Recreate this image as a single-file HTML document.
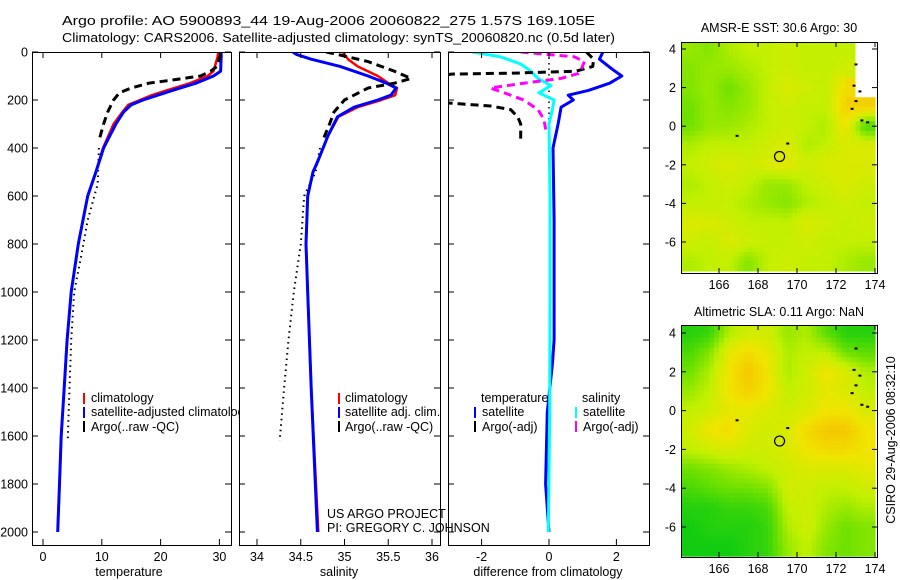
<!DOCTYPE html>
<html><head><meta charset="utf-8"><style>
body{margin:0;background:#fff;}
svg{display:block;font-family:"Liberation Sans",sans-serif;}
</style></head><body>
<svg id="fig" width="900" height="580" viewBox="0 0 900 580" xmlns="http://www.w3.org/2000/svg">
<rect width="900" height="580" fill="#fff"/>
<text x="62" y="25" font-size="13" textLength="533" lengthAdjust="spacingAndGlyphs">Argo profile: AO 5900893_44 19-Aug-2006 20060822_275 1.57S 169.105E</text>
<text x="62" y="42" font-size="13" textLength="553" lengthAdjust="spacingAndGlyphs">Climatology: CARS2006. Satellite-adjusted climatology: synTS_20060820.nc (0.5d later)</text>
<defs>
<clipPath id="c1"><rect x="32" y="52" width="199" height="493"/></clipPath>
<clipPath id="c1b"><rect x="32" y="52" width="208" height="493"/></clipPath>
<clipPath id="c2"><rect x="239" y="52" width="201" height="493"/></clipPath>
<clipPath id="c3"><rect x="448" y="52" width="201" height="493"/></clipPath>
<clipPath id="cm1"><rect x="681" y="42" width="196" height="231"/></clipPath>
<clipPath id="cm2"><rect x="681" y="325" width="196" height="232"/></clipPath>
</defs>
<g id="g1" clip-path="url(#c1)"></g>
<g id="g2" clip-path="url(#c2)"></g>
<g id="g3" clip-path="url(#c3)"></g>
<g id="m1" clip-path="url(#cm1)"></g>
<g id="m2" clip-path="url(#cm2)"></g>
<g id="axes"></g>
<text x="91" y="402" font-size="12.5">climatology</text>
<text x="91" y="416" font-size="12.5" clip-path="url(#c1b)">satellite-adjusted climatology</text>
<text x="91" y="431" font-size="12.5">Argo(..raw -QC)</text>
<rect x="83" y="393" width="2" height="11" fill="#f00"/>
<rect x="83" y="407" width="2" height="11" fill="#00f"/>
<rect x="83" y="421" width="2" height="11" fill="#000"/>
<text x="345" y="402" font-size="12.5">climatology</text>
<text x="345" y="416" font-size="12.5">satellite adj. clim.</text>
<text x="345" y="431" font-size="12.5">Argo(..raw -QC)</text>
<rect x="338" y="393" width="2" height="11" fill="#f00"/>
<rect x="338" y="407" width="2" height="11" fill="#00f"/>
<rect x="338" y="421" width="2" height="11" fill="#000"/>
<text x="481" y="402" font-size="12.5">temperature</text>
<text x="582" y="402" font-size="12.5">salinity</text>
<text x="482" y="416" font-size="12.5">satellite</text>
<text x="482" y="431" font-size="12.5">Argo(-adj)</text>
<text x="583" y="416" font-size="12.5">satellite</text>
<text x="583" y="431" font-size="12.5">Argo(-adj)</text>
<rect x="474" y="407" width="2" height="11" fill="#00f"/>
<rect x="474" y="421" width="2" height="11" fill="#000"/>
<rect x="575" y="407" width="2" height="11" fill="#0ff"/>
<rect x="575" y="421" width="2" height="11" fill="#f0f"/>
<text x="327" y="518" font-size="12.5">US ARGO PROJECT</text>
<text x="327" y="532" font-size="12.5">PI: GREGORY C. JOHNSON</text>
<text x="129" y="576" font-size="12.5" text-anchor="middle">temperature</text>
<text x="339" y="576" font-size="12.5" text-anchor="middle">salinity</text>
<text x="548" y="576" font-size="12.5" text-anchor="middle">difference from climatology</text>
<text x="779" y="32" font-size="12.5" text-anchor="middle">AMSR-E SST: 30.6  Argo: 30</text>
<text x="779" y="316" font-size="12.5" text-anchor="middle">Altimetric SLA: 0.11  Argo: NaN</text>
<text transform="translate(895,440) rotate(-90)" font-size="12.5" text-anchor="middle">CSIRO 29-Aug-2006 08:32:10</text>
</svg>
<script>
// ---- profile data (depth, value) ----
const tempDepth = [0,20,80,100,130,160,180,200,220,250,300,400,500,600,700,800,1000,1200,1400,1600,1800,2000];
const tempSat   = [30.3,30.3,30.2,29,26,22,19.5,17,15,13.7,12.4,10.3,9,7.6,6.8,6,4.8,4.1,3.6,3.1,2.8,2.5];
const tempClim  = [29.8,29.7,29,28,25,21,18.5,16.5,14.5,13.5,12,10.2,9,7.6,6.8,6,4.8,4.1,3.6,3.1,2.8,2.5];
const argoTDepth = [10,60,80,100,120,130,150,170,200,250,300,370];
const argoT      = [30.2,29.6,28.5,26.8,21,18,15,13,12,11,10.3,9.5];
const rawTDepth = [400,550,700,850,1000,1200,1400,1620];
const rawT      = [9.5,9.3,7.6,6.5,5.3,4.8,4.5,4.2];

const salDepth = [0,10,30,60,100,130,150,180,200,230,270,350,450,500,600,800,1000,1400,2000];
const salSat   = [34.41,34.45,34.62,34.95,35.27,35.48,35.59,35.53,35.38,35.11,34.92,34.81,34.7,34.64,34.58,34.56,34.58,34.62,34.69];
const salClim  = [34.98,35.0,35.04,35.15,35.38,35.5,35.6,35.58,35.42,35.15,34.93,34.81,34.7,34.64,34.58,34.56,34.58,34.62,34.7];
const argoSDepth = [0,15,40,80,110,130,150,200,250,300,370];
const argoS      = [34.79,34.98,35.27,35.57,35.76,35.57,35.27,35.0,34.88,34.83,34.75];
const rawSDepth = [400,500,600,800,1000,1200,1400,1620];
const rawS      = [34.72,34.67,34.54,34.5,34.42,34.36,34.31,34.26];

const dTDepth = [0,30,70,100,130,160,180,200,230,300,400,700,1000,1200,1300,1500,1800,2000];
const dTSat   = [1.6,1.5,1.86,2.16,1.8,1.17,0.57,0.72,0.36,0.27,0.12,0.15,0.15,0.15,0.1,-0.05,-0.1,0];
const dSDepth = [0,20,50,80,110,140,170,200,240,300,600,1000,1500,2000];
const dSSat   = [-2.28,-1.44,-0.84,-0.54,-0.33,0.06,-0.3,0.15,0.1,0,0.03,0.03,0.02,-0.02];
const dTArgoDepth = [0,30,60,80,88,92,120,200,213,225,240,270,300,367];
const dTArgo      = [1.11,1.32,1.3,0.8,-1,-2.9,-4,-4,-2.94,-1.74,-1.14,-0.93,-0.84,-0.84];
const dSArgoDepth = [0,20,40,70,90,110,130,150,175,200,240,280,330];
const dSArgo      = [-0.84,0.75,1.05,0.96,0.87,0.36,-0.75,-1.74,-1.23,-0.75,-0.33,-0.15,-0.09];

// ---- map grids (lat rows 4..-7, lon cols 164.5..173.5), value 0 green .. 1 orange, null = missing ----
const sstGrid = [
[.4,.35,.45,.5,.5,.55,.5,.5,.5,null],
[.35,.4,.4,.45,.5,.55,.5,.5,.55,null],
[.35,.4,.3,.4,.5,.6,.55,.5,.75,null],
[.3,.4,.35,.4,.5,.55,.5,.5,.8,.8],
[.3,.4,.4,.45,.5,.55,.5,.45,.7,.2],
[.45,.5,.5,.5,.55,.6,.45,.5,.6,.6],
[.5,.55,.6,.55,.6,.65,.55,.6,.6,.6],
[.45,.5,.55,.5,.4,.4,.5,.55,.6,.55],
[.5,.5,.5,.45,.4,.35,.45,.5,.55,.5],
[.6,.6,.55,.5,.5,.5,.6,.55,.5,.55],
[.55,.5,.6,.55,.5,.5,.55,.5,.5,.5],
[.45,.5,.5,.35,.5,.55,.5,.5,.45,.4]];
const slaGrid = [
[.1,.15,.45,.55,.55,.4,.45,.25,.1,.1],
[.2,.35,.65,.75,.65,.45,.5,.5,.3,.25],
[.3,.45,.7,.85,.7,.45,.55,.7,.6,.45],
[.4,.5,.7,.8,.7,.5,.55,.65,.6,.5],
[.5,.55,.65,.65,.6,.55,.6,.7,.7,.6],
[.55,.7,.75,.6,.55,.6,.75,.85,.85,.7],
[.5,.55,.6,.55,.55,.6,.7,.75,.75,.7],
[.3,.35,.4,.45,.5,.55,.6,.6,.6,.65],
[.2,.25,.3,.3,.35,.55,.55,.5,.5,.55],
[.1,.1,.15,.15,.2,.5,.55,.45,.4,.45],
[.05,.1,.1,.1,.15,.45,.55,.4,.3,.35],
[.05,.05,.05,.1,.15,.4,.5,.35,.3,.35]];
const floatLon = 169.105, floatLat = -1.57;

const NS='http://www.w3.org/2000/svg';
function mk(tag, attrs, parent){const e=document.createElementNS(NS,tag);for(const k in attrs)e.setAttribute(k,attrs[k]);parent.appendChild(e);return e;}
const yD = d => 52 + d*0.24;
const xTemp = v => 43 + v*5.88;
const xSal = v => 257 + (v-34)*87.5;
const xDiff = v => 549 + v*33.7;

function line(g, depths, vals, xf, color, w, dash, name){
  const pts = depths.map((d,i)=> xf(vals[i]).toFixed(1)+','+yD(d).toFixed(1)).join(' ');
  const p = mk('polyline',{points:pts,fill:'none',stroke:color,'stroke-width':w,'stroke-linejoin':'round'},g);
  if(dash) p.setAttribute('stroke-dasharray',dash);
  
  
}
const g1=document.getElementById('g1'), g2=document.getElementById('g2'), g3=document.getElementById('g3');
line(g1,rawTDepth,rawT,xTemp,'#000',2,'1.5 4','temp-argo-raw-line');
line(g1,tempDepth,tempClim,xTemp,'#f00',2.5,null,'temp-climatology-line');
line(g1,tempDepth,tempSat,xTemp,'#00f',3,null,'temp-satellite-line');
line(g1,argoTDepth,argoT,xTemp,'#000',3,'8 5','temp-argo-line');
line(g2,rawSDepth,rawS,xSal,'#000',2,'1.5 4','sal-argo-raw-line');
line(g2,salDepth,salClim,xSal,'#f00',2.5,null,'sal-climatology-line');
line(g2,salDepth,salSat,xSal,'#00f',3,null,'sal-satellite-line');
line(g2,argoSDepth,argoS,xSal,'#000',3,'8 5','sal-argo-line');
line(g3,[0,450],[0,0],xDiff,'#000',1.5,'1.5 4','zero-reference-line');
line(g3,dTDepth,dTSat,xDiff,'#00f',3,null,'diff-temp-satellite-line');
line(g3,dSDepth,dSSat,xDiff,'#0ff',3,null,'diff-sal-satellite-line');
line(g3,dTArgoDepth,dTArgo,xDiff,'#000',3,'8 5','diff-temp-argo-line');
line(g3,dSArgoDepth,dSArgo,xDiff,'#f0f',3,'8 5','diff-sal-argo-line');

const axes=document.getElementById('axes');
function panel(x0,x1,xticks,xlabels,xf,name,showY){
  const r=mk('rect',{x:x0+.5,y:52.5,width:x1-x0,height:493,fill:'none',stroke:'#000','stroke-width':1},axes);
  
  
  for(let d=0; d<=2000; d+=200){
    const y=yD(d);
    mk('line',{x1:x0,x2:x0+6,y1:y,y2:y,stroke:'#000'},axes);
    mk('line',{x1:x1-6,x2:x1,y1:y,y2:y,stroke:'#000'},axes);
    if(showY){
      const t=mk('text',{x:28,y:y+4.5,'font-size':12.5,'text-anchor':'end'},axes);
      t.textContent=d;
      
      
    }
  }
  xticks.forEach((v,i)=>{
    const x=xf(v);
    mk('line',{x1:x,x2:x,y1:52,y2:58,stroke:'#000'},axes);
    mk('line',{x1:x,x2:x,y1:539,y2:545,stroke:'#000'},axes);
    const t=mk('text',{x:x,y:561,'font-size':12.5,'text-anchor':'middle'},axes);
    t.textContent=xlabels[i];
    
    
  });
}
const tTicks=[0,10,20,30], sTicks=[34,34.5,35,35.5,36], dTicks=[-2,0,2];
panel(32,231,tTicks,['0','10','20','30'],xTemp,'temperature-panel',true);
panel(239,440,sTicks,['34','34.5','35','35.5','36'],xSal,'salinity-panel',false);
panel(448,649,dTicks,['-2','0','2'],xDiff,'difference-panel',false);

// ---- maps ----
function cmap(v){
  const stops=[[0,[0,200,20]],[0.3,[110,225,0]],[0.5,[195,240,0]],[0.7,[240,228,0]],[1,[250,170,0]]];
  for(let i=1;i<stops.length;i++){ if(v<=stops[i][0]){const a=stops[i-1],b=stops[i];const t=(v-a[0])/(b[0]-a[0]);
    return 'rgb('+a[1].map((c,k)=>Math.round(c+(b[1][k]-c)*t)).join(',')+')';}}
  return 'rgb(250,170,0)';
}
function drawMap(gid,grid,top,bot,smooth,name,latTopPx,lat6Px){
  const g=document.getElementById(gid);
  const lonX = lon => 719 + (lon-166)*19.5;
  const latY = lat => latTopPx + (4-lat)*(lat6Px-latTopPx)/10;
  const sub = 4;
  const val=(r,c)=>{r=Math.max(0,Math.min(11,r));c=Math.max(0,Math.min(9,c));return grid[r][c];};
  for(let r=-1;r<12;r++)for(let c=-1;c<10;c++){
    for(let i=0;i<sub;i++)for(let j=0;j<sub;j++){
      const lat=4.5-r-(i+0.5)/sub, lon=164+c+(j+0.5)/sub;
      let v;
      const fr=4-lat, fc=lon-164.5; const r0=Math.floor(fr), c0=Math.floor(fc); const tr=fr-r0, tc=fc-c0;
      const a=val(r0,c0),b=val(r0,c0+1),cc=val(r0+1,c0),d=val(r0+1,c0+1);
      if(!smooth && (a==null||b==null||cc==null||d==null)) v=val(Math.round(fr),Math.round(fc));
      else v=(1-tr)*((1-tc)*a+tc*b)+tr*((1-tc)*cc+tc*d);
      const x=lonX(lon-0.5/sub), y=latY(lat+0.5/sub);
      const cell=mk('rect',{x:x.toFixed(1),y:y.toFixed(1),width:(19.5/sub+0.6).toFixed(1),height:(19.4/sub+0.6).toFixed(1),fill:v==null?'#fff':cmap(v)},g);
      
      
    }
  }
  [[173,3.2],[172.9,2.1],[173.2,1.8],[173,1.3],[172.8,0.9],[173.3,0.3],[173.6,0.2],[166.9,-0.5],[169.5,-0.9]].forEach(p=>{
    const s=mk('rect',{x:lonX(p[0])-1,y:latY(p[1])-1,width:3,height:2,fill:'#000'},g);
    
    
  });
  const c=mk('circle',{cx:lonX(floatLon),cy:latY(floatLat),r:5,fill:'none',stroke:'#000','stroke-width':1.2},g);
  
  
  const f=mk('rect',{x:681.5,y:top+.5,width:196,height:bot-top,fill:'none',stroke:'#000'},axes);
  
  
  [166,168,170,172,174].forEach(l=>{
    const x=lonX(l);
    mk('line',{x1:x,x2:x,y1:top,y2:top+5,stroke:'#000'},axes);
    mk('line',{x1:x,x2:x,y1:bot-5,y2:bot,stroke:'#000'},axes);
    const t=mk('text',{x:x,y:bot+16,'font-size':12.5,'text-anchor':'middle'},axes);
    t.textContent=l;
    
    
  });
  [4,2,0,-2,-4,-6].forEach(l=>{
    const y=latY(l);
    mk('line',{x1:681,x2:686,y1:y,y2:y,stroke:'#000'},axes);
    mk('line',{x1:872,x2:877,y1:y,y2:y,stroke:'#000'},axes);
    const t=mk('text',{x:676,y:y+4.5,'font-size':12.5,'text-anchor':'end'},axes);
    t.textContent=l;
    
    
  });
}
drawMap('m1',sstGrid,42,273,false,'sst-map',49,242);
drawMap('m2',slaGrid,325,557,true,'sla-map',333,527);
</script>
</body></html>
